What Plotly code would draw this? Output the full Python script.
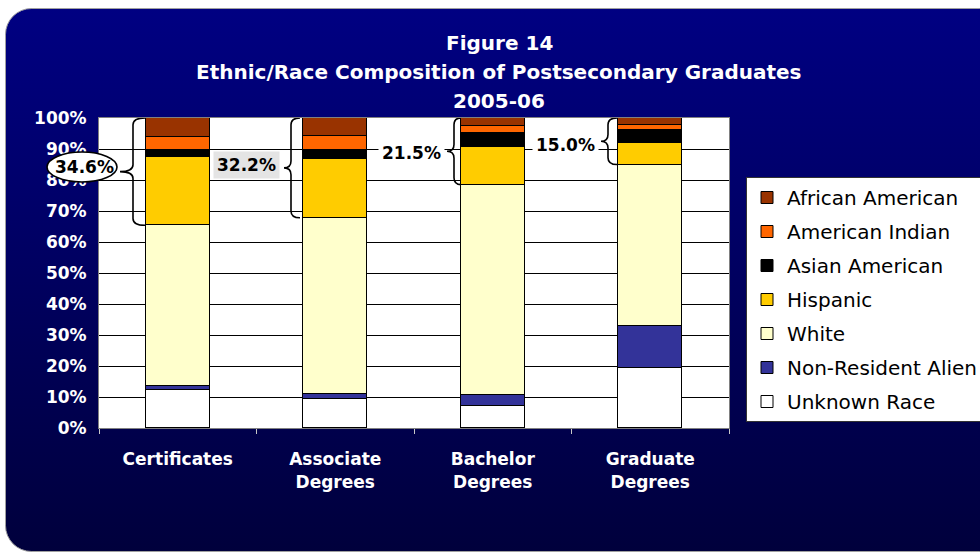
import base64
import plotly.graph_objects as go

# ---------------- data ----------------
categories = ["Certificates", "Associate<br>Degrees", "Bachelor<br>Degrees", "Graduate<br>Degrees"]
series_names = ["Unknown Race", "Non-Resident Alien", "White", "Hispanic",
                "Asian American", "American Indian", "African American"]
unknown_race = [12.4, 9.5, 7.2, 19.4]
non_resident_alien = [1.0, 1.6, 3.4, 13.4]
white = [52.0, 56.7, 67.9, 52.2]
hispanic = [21.9, 19.0, 12.0, 6.9]
asian_american = [2.5, 2.8, 4.7, 4.1]
american_indian = [4.1, 4.7, 2.1, 1.6]
african_american = [6.1, 5.7, 2.7, 2.4]
title_lines = ["Figure 14", "Ethnic/Race Composition of Postsecondary Graduates", "2005-06"]

series_values = [unknown_race, non_resident_alien, white, hispanic,
                 asian_american, american_indian, african_american]
colors = ["#FFFFFF", "#333399", "#FFFFCC", "#FFCC00", "#000000", "#FF6600", "#993300"]

# ---------------- geometry helpers (pixel layout) ----------------
W, H = 980, 554
PL, PR, PT, PB = 99, 729, 118, 428  # plot area in pixels
PW, PH = PR - PL, PB - PT


def px_x(x):
    return (x - PL) / PW


def px_y(y):
    return (PB - y) / PH


FONT = "DejaVu Sans"

fig = go.Figure()
n_series = len(series_names)
for i, (name, vals, col) in enumerate(zip(series_names, series_values, colors)):
    fig.add_trace(go.Bar(
        x=categories, y=vals, name=name, legendgroup=name, legendrank=100 + n_series - i,
        marker=dict(color=col, line=dict(color="#000000", width=1)),
        width=0.405, hoverinfo="name+y",
    ))

# background panel (rounded, vertical gradient)
svg = ('<svg xmlns="http://www.w3.org/2000/svg" width="980" height="554" viewBox="0 0 980 554" '
       'preserveAspectRatio="none"><defs><linearGradient id="g" x1="0" y1="0" x2="0" y2="1">'
       '<stop offset="0" stop-color="#000082"/><stop offset="1" stop-color="#00003C"/>'
       '</linearGradient></defs><rect x="5.5" y="8.5" width="1000" height="543" rx="26" ry="26" '
       'fill="url(#g)" stroke="#A0A0A0" stroke-width="1"/></svg>')
src = "data:image/svg+xml;base64," + base64.b64encode(svg.encode()).decode()
images = [dict(source=src, xref="paper", yref="paper", x=px_x(0), y=px_y(0),
               sizex=W / PW, sizey=H / PH, xanchor="left", yanchor="top",
               sizing="stretch", layer="below")]

shapes = [dict(type="rect", xref="paper", yref="paper", x0=0, x1=1, y0=0, y1=1,
               fillcolor="#FFFFFF", line=dict(width=0), layer="below")]

# braces spanning the minority share (top of White to 100%)
brace_px = [(120, 133, 145), (284, 291, 300), (447, 454, 461), (601, 608, 617)]
white_top = [u + n + w for u, n, w in zip(unknown_race, non_resident_alien, white)]
r = 2.2
for (xp, xs, xt), bot in zip(brace_px, white_top):
    top = 100.0
    mid = (top + bot) / 2
    p, s, t = px_x(xp), px_x(xs), px_x(xt)
    path = (f"M{t},{top} Q{s},{top} {s},{top - r} L{s},{mid + r} Q{s},{mid} {p},{mid} "
            f"Q{s},{mid} {s},{mid - r} L{s},{bot + r} Q{s},{bot} {t},{bot}")
    shapes.append(dict(type="path", xref="paper", yref="y", path=path,
                       line=dict(color="#000000", width=1.6)))

# ellipse around first label
shapes.append(dict(type="circle", xref="paper", yref="paper",
                   x0=px_x(47), x1=px_x(117), y0=px_y(182), y1=px_y(152),
                   fillcolor="#FFFFFF", line=dict(color="#000000", width=1.6)))

labels = [f"{100 - wt:.1f}%" for wt in white_top]
label_pos = [(84, 167, "rgba(0,0,0,0)", 0), (246, 165, "#E4E4E4", 3),
             (411, 153, "#FFFFFF", 3), (565, 145, "#FFFFFF", 3)]
annotations = []
for lab, (lx, ly, bg, pad) in zip(labels, label_pos):
    annotations.append(dict(text=lab, xref="paper", yref="paper", x=px_x(lx), y=px_y(ly),
                            xanchor="center", yanchor="middle", showarrow=False,
                            bgcolor=bg, borderpad=pad,
                            font=dict(family=FONT, size=17, color="#000000", weight="bold")))

for line, ty in zip(title_lines, [43, 72, 101]):
    annotations.append(dict(text=line, xref="paper", yref="paper", x=px_x(499), y=px_y(ty),
                            xanchor="center", yanchor="middle", showarrow=False,
                            font=dict(family=FONT, size=20, color="#FFFFFF", weight="bold")))

fig.update_layout(
    width=W, height=H,
    margin=dict(l=PL, r=W - PR, t=PT, b=H - PB, pad=0, autoexpand=False),
    paper_bgcolor="#FFFFFF", plot_bgcolor="#FFFFFF",
    barmode="stack", bargap=0,
    showlegend=True,
    legend=dict(x=px_x(746), y=px_y(177), xanchor="left", yanchor="top",
                bgcolor="#FFFFFF", bordercolor="#333333", borderwidth=1,
                traceorder="grouped", tracegroupgap=5,
                font=dict(family=FONT, size=20, color="#000000"),
                itemclick=False, itemdoubleclick=False),
    xaxis=dict(type="category", tickson="boundaries", ticks="outside", ticklen=5,
               tickcolor="#C8C8C8", showgrid=False, showline=True, linecolor="#808080",
               mirror=True, ticklabelstandoff=16,
               tickfont=dict(family=FONT, size=17, color="#FFFFFF", weight="bold")),
    yaxis=dict(range=[0, 100], dtick=10, ticksuffix="%", showgrid=True,
               gridcolor="#000000", gridwidth=1, showline=True, linecolor="#808080",
               mirror=True, zeroline=False, ticks="", ticklabelstandoff=8,
               tickfont=dict(family=FONT, size=17, color="#FFFFFF", weight="bold")),
    images=images, shapes=shapes, annotations=annotations,
)

fig.write_html("out.html", config={"displayModeBar": False},
               post_script="document.body.style.margin='0px';")
